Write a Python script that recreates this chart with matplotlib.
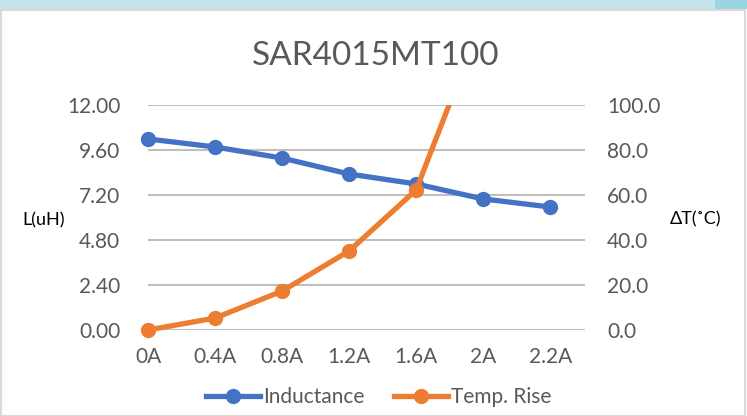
import matplotlib
matplotlib.use('Agg')
import matplotlib.pyplot as plt
from matplotlib.patches import Rectangle

plt.rcParams['font.family'] = ['Lato', 'DejaVu Sans']

# data
currents = ['0A', '0.4A', '0.8A', '1.2A', '1.6A', '2A', '2.2A']
inductance = [10.19, 9.76, 9.17, 8.32, 7.79, 6.99, 6.56]
temp_rise = [0.0, 5.3, 17.3, 35.1, 62.2, 139.0, 175.0]
l_ticks = [0.00, 2.40, 4.80, 7.20, 9.60, 12.00]
t_ticks = [0.0, 20.0, 40.0, 60.0, 80.0, 100.0]

BLUE = '#4472C4'
ORANGE = '#ED7D31'
GRAY = '#595959'
GRID = '#BFBFBF'

fig = plt.figure(figsize=(7.47, 4.16), dpi=100)
fig.patch.set_facecolor('white')

# light blue band at the top + frame border (kept below the axes)
fig.patches.append(Rectangle((0, 1 - 9/416), 1, 9/416, transform=fig.transFigure,
                             facecolor='#C5E4EB', edgecolor='none', zorder=-2))
fig.patches.append(Rectangle((715/747, 1 - 9/416), 32/747, 9/416, transform=fig.transFigure,
                             facecolor='#9BD5E3', edgecolor='none', zorder=-2))
fig.patches.append(Rectangle((1/747, 0), 744/747, 1 - 10/416, transform=fig.transFigure,
                             facecolor='white', edgecolor='#D9D9D9', linewidth=1.5, zorder=-1))

ax = fig.add_axes([148/747, 1 - 330/416, (585 - 148)/747, (330 - 105)/416])
ax2 = ax.twinx()
x = list(range(len(currents)))

ax.set_ylim(0, 12)
ax.set_yticks(l_ticks)
ax.set_yticklabels(['%.2f' % v for v in l_ticks])
ax2.set_ylim(0, 100)
ax2.set_yticks(t_ticks)
ax2.set_yticklabels(['%.1f' % v for v in t_ticks])
ax.set_xlim(0, 6.52)
ax.set_xticks(x)
ax.set_xticklabels(currents)

for a in (ax, ax2):
    for s in a.spines.values():
        s.set_visible(False)
    a.tick_params(length=0, labelsize=15, labelcolor=GRAY)
ax.tick_params(axis='y', pad=20)
ax.tick_params(axis='x', pad=12)
ax2.tick_params(axis='y', pad=16)
ax.patch.set_alpha(0)
ax2.patch.set_alpha(0)

ax.grid(axis='y', color=GRID, linewidth=1.5)
ax.set_axisbelow(True)

l1, = ax.plot(x, inductance, color=BLUE, lw=3.8, marker='o', ms=10, label='Inductance')
l1.set_clip_path(Rectangle((-0.05, -0.1), 1.1, 1.1, transform=ax.transAxes, facecolor='none'))
l2, = ax2.plot(x, temp_rise, color=ORANGE, lw=3.8, marker='o', ms=10, label='Temp. Rise')
l2.set_clip_path(Rectangle((-0.05, -0.1), 1.1, 1.1, transform=ax2.transAxes, facecolor='none'))

fig.text(376/747, 1 - 56/416, 'SAR4015MT100', ha='center', va='center', fontsize=24, color=GRAY)
fig.text(44/747, 1 - 220/416, 'L(uH)', ha='center', va='center', fontsize=13, color='black')
fig.text(696/747, 1 - 219/416, 'ΔT(˚C)', ha='center', va='center', fontsize=13, color='black')

fig.legend(handles=[l1, l2], loc='center', bbox_to_anchor=(379/747, 1 - 397/416), ncol=2,
           frameon=False, fontsize=15, labelcolor=GRAY, handlelength=2.6,
           handletextpad=0.15, columnspacing=1.4)

fig.savefig('out.png', dpi=100, facecolor='white')
